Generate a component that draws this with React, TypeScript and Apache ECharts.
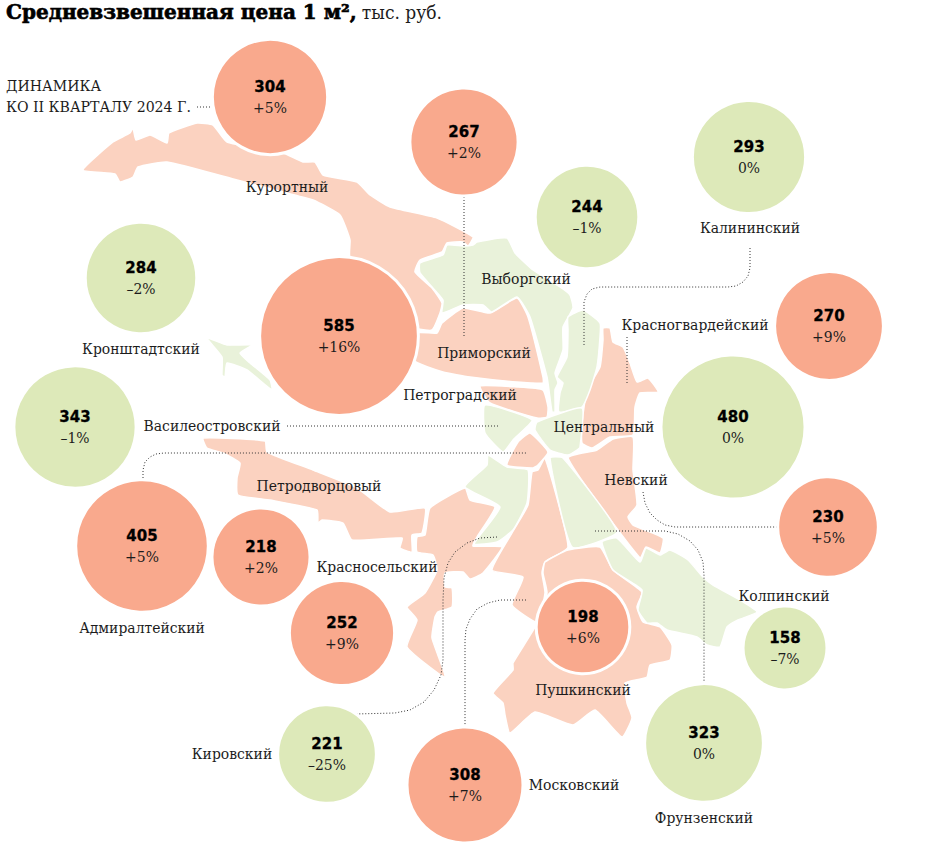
import React, { useEffect, useRef } from "react";
import * as echarts from "echarts";

type Pt = [number, number];

const districts = ["Курортный","Приморский","Выборгский","Калининский","Красногвардейский","Центральный","Невский","Колпинский","Фрунзенский","Московский","Кировский","Пушкинский","Красносельский","Петродворцовый","Адмиралтейский","Василеостровский","Кронштадтский","Петроградский"];
const prices = [304,267,244,293,270,480,230,158,323,308,221,198,252,218,405,343,284,585];
const changes = ["+5%","+2%","–1%","0%","+9%","0%","+5%","–7%","0%","+7%","–25%","+6%","+9%","+2%","+5%","–1%","–2%","+16%"];
const rising = [1,1,0,0,1,0,1,0,0,1,0,1,1,1,1,0,0,1];
const bubbleX = [270,464,587,749,829,733,828,785,704,465,327,583,342,261,142,75,141,339];
const bubbleY = [97,142,217,157,326,427,527,648,743,785,754,627,633,557,546,427,278,336];
const nameX = [287,484,526,750,695,604,636,784,704,574,232,583,377,319,142,212,141,460];
const nameY = [187,353,279,228,325,427,480,596,818,785,754,690,567,486,628,426,349,395];

const salmonShapes: Pt[][] = [
  [[83,170],[113,142],[130,133],[133,128],[136,140],[150,135],[167,143],[169,133],[197,123],[213,125],[227,142],[283,153],[303,162],[315,162],[323,175],[357,182],[370,195],[390,207],[437,218],[473,237],[468,246],[463,242],[447,243],[442,252],[420,260],[415,272],[432,288],[442,303],[440,313],[432,330],[417,328],[350,257],[350,240],[340,215],[313,200],[287,193],[237,180],[167,162],[138,167],[133,177],[120,182],[115,174]],
  [[442,323],[463,308],[490,313],[517,298],[528,317],[543,377],[543,383],[517,382],[470,377],[443,372],[413,360],[417,333],[437,333]],
  [[603,328],[610,328],[613,342],[623,347],[630,363],[637,382],[648,378],[658,392],[640,393],[635,407],[633,435],[610,437],[592,448],[582,443],[582,423],[587,390],[600,367],[603,340]],
  [[568,458],[597,450],[613,439],[633,437],[633,470],[637,505],[628,517],[633,525],[663,538],[660,553],[646,547],[640,558]],
  [[545,458],[568,547],[545,562],[542,573],[545,593],[537,622],[512,605],[523,577],[492,570],[515,528],[528,505],[532,472],[538,470]],
  [[530,433],[548,452],[538,465],[533,468],[507,465],[518,442]],
  [[480,386],[517,387],[543,390],[548,407],[547,417],[537,418],[490,403]],
  [[430,508],[465,488],[470,500],[495,507],[477,537],[473,546],[502,547],[483,573],[470,579],[463,572],[445,573],[445,587],[452,588],[452,607],[438,612],[435,617],[432,638],[445,677],[407,647],[417,620],[407,607],[425,593],[437,570],[433,555],[417,552],[417,537],[425,535]],
  [[203,438],[265,441],[267,452],[313,470],[357,488],[390,512],[425,508],[422,533],[412,535],[412,552],[400,548],[402,538],[352,540],[343,523],[322,520],[318,523],[317,510],[270,500],[238,495],[237,478],[240,463],[223,453],[207,448]],
  [[600,547],[613,570],[642,592],[637,607],[643,622],[660,627],[672,645],[670,660],[650,665],[647,677],[625,683],[627,703],[632,718],[622,737],[595,710],[573,725],[535,712],[510,733],[505,715],[503,703],[493,693],[513,670],[513,663],[535,627],[547,593],[543,573],[545,562],[568,550]],
];
const greenShapes: Pt[][] = [
  [[420,263],[443,255],[447,245],[463,246],[473,245],[477,242],[507,238],[515,253],[533,270],[560,287],[570,295],[573,308],[563,327],[563,350],[555,373],[558,383],[555,390],[555,412],[552,412],[547,377],[530,317],[517,297],[492,312],[483,305],[463,305],[442,313],[443,300],[420,273]],
  [[568,317],[583,310],[600,323],[600,337],[597,367],[590,390],[582,407],[559,412],[560,393],[563,383],[557,377],[567,357],[568,330]],
  [[537,422],[582,408],[580,447],[577,450],[568,455],[550,450],[535,430]],
  [[485,405],[532,420],[513,440],[503,452],[485,433]],
  [[550,458],[563,458],[617,532],[572,547]],
  [[488,455],[507,467],[528,470],[527,503],[513,530],[497,542],[474,544],[500,507],[465,487],[487,465]],
  [[602,542],[617,538],[640,562],[646,548],[660,555],[670,550],[688,560],[703,577],[713,585],[740,600],[757,612],[738,620],[727,627],[720,647],[707,645],[697,637],[667,630],[657,623],[647,623],[638,610],[642,590],[613,570]],
  [[207,338],[227,345],[252,345],[240,353],[250,363],[270,380],[272,390],[247,370],[227,363],[225,377],[222,375],[222,357]],
];
const leaders: Pt[][] = [
  [[464,197],[464,337]],
  [[750,248],[750,268],[748,276],[743,282],[736,286],[728,287],[600,287],[592,289],[587,294],[584,302],[584,345]],
  [[627,337],[627,383]],
  [[287,426],[500,426]],
  [[143,481],[143,470],[145,462],[150,457],[156,454],[164,453],[527,453]],
  [[643,492],[645,503],[650,513],[657,520],[665,525],[675,527],[778,527]],
  [[595,531],[665,531],[678,534],[690,541],[698,550],[703,562],[704,575],[704,685]],
  [[526,600],[500,600],[488,603],[477,609],[470,619],[466,629],[465,640],[465,728]],
  [[497,537],[480,538],[467,543],[455,552],[448,563],[444,578],[443,600],[443,660],[441,675],[434,690],[424,702],[410,710],[395,713],[355,714]],
  [[197,107],[250,107]],
];

const SALMON = "#F9A98D";
const GREEN = "#DDE9B9";
const SALMON_LIGHT = "#FBD2C0";
const GREEN_LIGHT = "#E9F2DA";
const SERIF = '"DejaVu Serif Condensed", "Liberation Serif", serif';
const INK = "#1c1c1c";

function shapeSeries(shapes: Pt[][], fill: string) {
  return {
    type: "custom",
    coordinateSystem: "cartesian2d",
    silent: true,
    clip: false,
    z: 1,
    data: shapes.map((_, i) => [i, 0]),
    renderItem: (params: any, api: any) => ({
      type: "polygon",
      shape: { points: shapes[params.dataIndex].map((p) => api.coord(p)), smooth: 0.15 },
      style: { fill, stroke: "#fff", lineWidth: 1.5, lineJoin: "round" },
    }),
  };
}

export default function App() {
  const ref = useRef<HTMLDivElement>(null);
  useEffect(() => {
    const chart = echarts.init(ref.current!, undefined, { renderer: "svg" });
    chart.setOption({
      animation: false,
      backgroundColor: "#fff",
      title: {
        left: 1,
        top: -3,
        text: "{b|Средневзвешенная цена 1 м²,} {n|тыс. руб.}",
        textStyle: {
          fontWeight: "normal",
          rich: {
            b: { fontFamily: '"DejaVu Serif"', fontWeight: "bold", fontSize: 20, color: "#000", textBorderColor: "#000", textBorderWidth: 0.6 },
            n: { fontFamily: SERIF, fontWeight: "normal", fontSize: 19, color: INK },
          },
        },
      },
      grid: { left: 0, right: 0, top: 0, bottom: 0 },
      xAxis: { type: "value", min: 0, max: 930, show: false },
      yAxis: { type: "value", min: 0, max: 846, inverse: true, show: false },
      graphic: [
        { type: "text", x: 6, y: 77, style: { text: "ДИНАМИКА", fontFamily: SERIF, fontSize: 15.7, fill: INK } },
        { type: "text", x: 6, y: 98, style: { text: "КО II КВАРТАЛУ 2024 Г.", fontFamily: SERIF, fontSize: 15.7, fill: INK } },
      ],
      series: [
        shapeSeries(salmonShapes, SALMON_LIGHT),
        shapeSeries(greenShapes, GREEN_LIGHT),
        {
          type: "custom",
          coordinateSystem: "cartesian2d",
          silent: true,
          clip: false,
          z: 2,
          data: leaders.map((_, i) => [i, 0]),
          renderItem: (params: any, api: any) => ({
            type: "polyline",
            shape: { points: leaders[params.dataIndex].map((p) => api.coord(p)) },
            style: { fill: "none", stroke: "#333", lineWidth: 1, lineDash: [1, 2] },
          }),
        },
        {
          type: "scatter",
          silent: true,
          z: 3,
          symbol: "circle",
          symbolSize: (v: number[]) => 2 * (3.22 * Math.sqrt(v[2]) + 1.5),
          data: prices.map((p, i) => ({
            value: [bubbleX[i], bubbleY[i], p],
            itemStyle: { color: rising[i] ? SALMON : GREEN, borderColor: "#fff", borderWidth: 3, opacity: 1 },
            label: {
              show: true,
              position: "inside",
              formatter: `{v|${p}}\n{c|${changes[i]}}`,
              rich: {
                v: { fontFamily: '"DejaVu Sans"', fontWeight: "bold", fontSize: 15, color: "#000", lineHeight: 21, align: "center", textBorderColor: "#000", textBorderWidth: 0.3 },
                c: { fontFamily: SERIF, fontSize: 15.5, color: INK, lineHeight: 21, align: "center" },
              },
            },
          })),
        },
        {
          type: "scatter",
          silent: true,
          z: 4,
          symbol: "circle",
          symbolSize: 1,
          itemStyle: { color: "rgba(0,0,0,0)", opacity: 1 },
          data: districts.map((d, i) => ({
            value: [nameX[i], nameY[i]],
            name: d,
            label: {
              show: true,
              position: "inside",
              formatter: d,
              fontFamily: SERIF,
              fontSize: 15.5,
              color: INK,
            },
          })),
        },
      ],
    });
    return () => chart.dispose();
  }, []);
  return <div ref={ref} style={{ position: "absolute", left: 0, top: 0, width: 930, height: 846 }} />;
}
